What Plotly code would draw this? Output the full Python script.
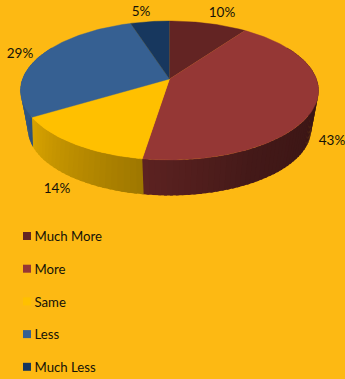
import numpy as np
import plotly.graph_objects as go

# Survey answers and their shares as printed on the slices
categories = ["Much More", "More", "Same", "Less", "Much Less"]
values = [10, 43, 14, 29, 5]
value_labels = ["10%", "43%", "14%", "29%", "5%"]
colors = ["#632423", "#953735", "#FFC000", "#366092", "#17375E"]

# Page and pie geometry, in pixels
WIDTH, HEIGHT = 345, 379
BACKGROUND = "#FDB913"
TEXT_COLOR = "#141208"
FONT = "Lato, sans-serif"
CX = 169.5
TOP_CY, BOTTOM_CY = 79.0, 118.5
RADIUS_X, RADIUS_Y = 147.0, 67.6
PERSPECTIVE = 0.1655
BOTTOM_SCALE = 0.95

# Where the percentage labels sit around the pie
LABEL_ANCHORS = [(222, 14), (332, 142), (57, 190), (20, 55), (141, 13)]

# Legend rows
LEGEND_X = 27
LEGEND_TEXT_X = 34.5
LEGEND_TOP = 236
LEGEND_STEP = 32.7
LEGEND_TEXT_DROP = 2

# Side wall brightness by clockwise angle from twelve o'clock
SHADE_ANGLES = [60, 100, 150, 189, 239, 270, 300]
SHADE_LEVELS = [0.38, 0.38, 0.45, 0.62, 0.85, 0.92, 0.92]

# The wall's vertical edges lean outwards on the left of the pie
LEAN_ANGLES = [60, 189, 239, 300]
LEAN_DEGREES = [0, 0, 6.7, 6.7]


def project(angle_deg, cy, scale=1.0):
    """Map a clockwise rim angle onto the tilted disc."""
    a = np.radians(angle_deg)
    u, v = np.sin(a), np.cos(a)
    d = 1 + PERSPECTIVE * v
    return CX + scale * RADIUS_X * u / d, cy - scale * RADIUS_Y * v / d


def shaded(hex_color, level):
    rgb = [int(hex_color[i:i + 2], 16) for i in (1, 3, 5)]
    return "rgb({},{},{})".format(*[round(c * level) for c in rgb])


fig = go.Figure()
total = sum(values)
edges = np.cumsum([0] + values) / total * 360

# Side wall: thin quads with varying shade; each runs under the next one,
# so no gaps appear between neighbours
for start, end, color in zip(edges[:-1], edges[1:], colors):
    lo, hi = max(start, 60), min(end, 300)
    if hi <= lo:
        continue
    steps = np.linspace(lo, hi, max(2, int((hi - lo) / 2) + 1))
    for a0, a1 in zip(steps[:-1], steps[1:]):
        a_far = a1 + 1.0 if end < 300 or a1 < hi else a1
        tx, ty = project(np.array([a0, a_far]), TOP_CY)
        lower = np.array([a_far, a0])
        lower = lower + np.interp(lower, LEAN_ANGLES, LEAN_DEGREES)
        bx, by = project(lower, BOTTOM_CY, BOTTOM_SCALE)
        wall = shaded(color, float(np.interp((a0 + a1) / 2, SHADE_ANGLES, SHADE_LEVELS)))
        fig.add_trace(go.Scatter(
            x=np.r_[tx, bx], y=np.r_[ty, by], mode="none", fill="toself",
            fillcolor=wall, hoverinfo="skip",
        ))

# Top face of each slice
for start, end, color in zip(edges[:-1], edges[1:], colors):
    rim = np.linspace(start, end, int(end - start) + 2)
    rx, ry = project(rim, TOP_CY)
    cx0, cy0 = project(np.array([90.0]), TOP_CY, 0.0)
    fig.add_trace(go.Scatter(
        x=np.r_[cx0, rx], y=np.r_[cy0, ry], mode="lines", fill="toself",
        fillcolor=color, line=dict(color=color, width=0.4), hoverinfo="skip",
    ))

# Percentage labels
fig.add_trace(go.Scatter(
    x=[p[0] for p in LABEL_ANCHORS], y=[p[1] for p in LABEL_ANCHORS],
    mode="text", text=value_labels, textposition="middle center",
    textfont=dict(family=FONT, size=13.5, color=TEXT_COLOR), hoverinfo="skip",
))

# Legend swatches and names
rows = [LEGEND_TOP + i * LEGEND_STEP for i in range(len(categories))]
fig.add_trace(go.Scatter(
    x=[LEGEND_X] * len(rows), y=rows, mode="markers",
    marker=dict(symbol="square", size=8, color=colors, line=dict(width=0)),
    hoverinfo="skip",
))
fig.add_trace(go.Scatter(
    x=[LEGEND_TEXT_X] * len(rows), y=[r + LEGEND_TEXT_DROP for r in rows],
    mode="text", text=categories, textposition="middle right",
    textfont=dict(family=FONT, size=13.2, color=TEXT_COLOR), hoverinfo="skip",
))

fig.update_layout(
    width=WIDTH, height=HEIGHT, margin=dict(l=0, r=0, t=0, b=0),
    paper_bgcolor=BACKGROUND, plot_bgcolor=BACKGROUND, showlegend=False,
    xaxis=dict(range=[0, WIDTH], visible=False, fixedrange=True),
    yaxis=dict(range=[HEIGHT, 0], visible=False, fixedrange=True),
)

fig.write_html("out.html", config={"displayModeBar": False})
